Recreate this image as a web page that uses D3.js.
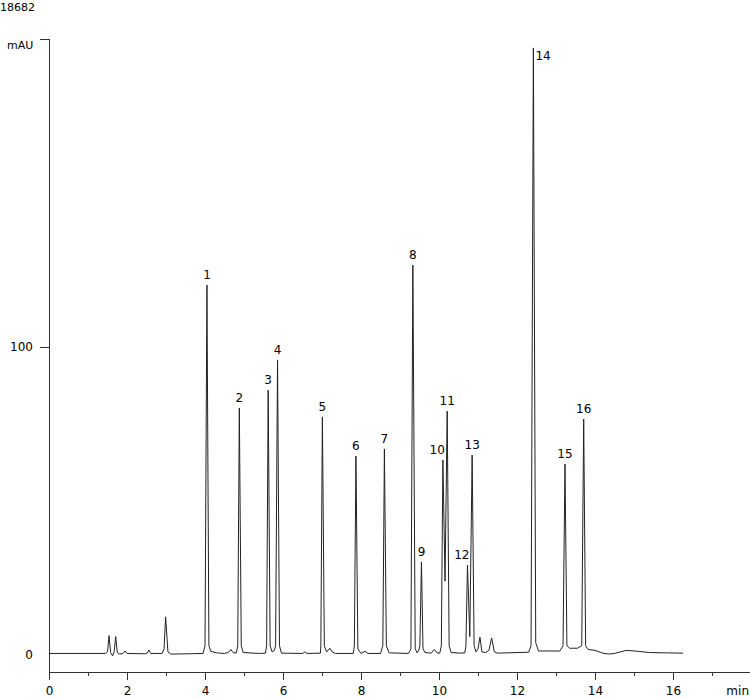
<!DOCTYPE html>
<html>
<head>
<meta charset="utf-8">
<script src="https://cdn.jsdelivr.net/npm/d3@7"></script>
<style>
  html, body { margin: 0; padding: 0; background: #fff; }
  svg { display: block; font-family: "DejaVu Sans", Verdana, sans-serif; }
</style>
</head>
<body>
<svg id="chart" width="750" height="699"></svg>
<script>
// signal trace, minutes / mAU
var traceTime = [0, 1.45, 1.50, 1.54, 1.58, 1.63, 1.67, 1.71, 1.75, 1.80, 1.90, 1.95, 2.00, 2.45, 2.52, 2.56, 2.61,
    2.90, 2.95, 2.99, 3.05, 3.12, 3.60, 3.95, 4.00, 4.05, 4.10, 4.15, 4.30, 4.50, 4.60, 4.66, 4.72, 4.80,
    4.84, 4.88, 4.93, 4.98, 5.40, 5.55, 5.58, 5.62, 5.67, 5.72, 5.78, 5.81, 5.86, 5.91, 5.96, 6.50, 6.56,
    6.62, 6.96, 6.97, 7.01, 7.06, 7.12, 7.20, 7.26, 7.35, 7.80, 7.83, 7.87, 7.92, 8.00, 8.10, 8.18, 8.50,
    8.56, 8.60, 8.65, 8.72, 9.22, 9.28, 9.33, 9.39, 9.44, 9.48, 9.51, 9.55, 9.59, 9.64, 9.80, 9.88, 9.95,
    10.02, 10.06, 10.10, 10.155, 10.21, 10.26, 10.31, 10.55, 10.66, 10.69, 10.73, 10.79, 10.85, 10.90,
    10.95, 11.00, 11.05, 11.10, 11.20, 11.28, 11.35, 11.42, 11.50, 12.30, 12.36, 12.42, 12.48, 12.55,
    12.80, 13.10, 13.18, 13.23, 13.28, 13.35, 13.55, 13.66, 13.71, 13.76, 13.82, 14.00, 14.20, 14.35,
    14.50, 14.80, 15.10, 15.40, 15.80, 16.26];
var traceSignal = [0.5, 0.5, 1, 6.3, 0.8, -0.3, 1, 6, 0.8, 0.3, 0.5, 1.3, 0.5, 0.4, 0.6, 1.6, 0.5,
    0.5, 2, 12.4, 1, 0.3, 0.4, 0.5, 3, 120.1, 3, 1.2, 0.7, 0.5, 0.8, 1.8, 0.8, 0.6,
    3, 80.2, 3, 0.8, 0.5, 0.6, 3, 86, 3, 1, 1.5, 3, 95.8, 3, 0.6, 0.5, 1,
    0.5, 0.6, 3, 77.3, 3, 1, 2.2, 1, 0.5, 0.5, 3, 64.6, 2, 0.5, 1.2, 0.5, 0.5,
    3, 66.9, 3, 0.7, 0.5, 2, 126.6, 2, 0.7, 1.5, 3, 30.2, 2, 0.8, 0.6, 1.8, 0.7,
    0.6, 3, 63.3, 24, 79.2, 3, 0.8, 0.6, 0.7, 3, 29.2, 6, 64.9, 3,
    1, 2, 5.8, 1, 0.8, 1.5, 5.5, 1, 0.6, 0.9, 3, 197.1, 4, 1.3,
    1.3, 1.3, 3, 62, 3, 2.2, 2.2, 3, 76.6, 3, 1.8, 1.5, 0.6, 0.3,
    0.5, 1.5, 1.2, 0.8, 0.7, 0.6];

// numbered peaks
var peakIds = ['1', '2', '3', '4', '5', '6', '7', '8', '9', '10', '11', '12', '13', '14', '15', '16'];
var peakTimes = [4.05, 4.88, 5.62, 5.86, 7.01, 7.87, 8.60, 9.33, 9.55, 10.10, 10.21, 10.73, 10.85, 12.42, 13.23, 13.71];
var peakHeights = [120.1, 80.2, 86, 95.8, 77.3, 64.6, 66.9, 126.6, 30.2, 63.3, 79.2, 29.2, 64.9, 197.1, 62, 76.6];

var xTickValues = [0, 1, 2, 3, 4, 5, 6, 7, 8, 9, 10, 11, 12, 13, 14, 15, 16, 17];
var yTickValues = [100, 200];
var yTickLabels = ['0', '100'];
var yLabelValues = [0, 100];

var svg = d3.select('#chart');

var x = d3.scaleLinear().domain([0, 18]).range([49, 751]),
    y = d3.scaleLinear().domain([0, 200]).range([655, 39]);

var axisColor = '#333';

// x axis
var xAxis = svg.append('g')
    .attr('transform', 'translate(0,672)')
    .call(d3.axisBottom(x)
        .tickValues(xTickValues)
        .tickSizeOuter(0)
        .tickSize(8)
        .tickFormat(function(d) { return d % 2 ? '' : d; }));

xAxis.select('.domain').attr('stroke', axisColor).attr('d', 'M49,0.5H750');
xAxis.selectAll('.tick line')
    .attr('stroke', axisColor)
    .attr('y2', function(d) { return d % 2 ? 4 : 8; });
xAxis.selectAll('.tick text')
    .attr('fill', '#000')
    .attr('y', 23)
    .attr('dy', null)
    .style('font-size', '12px')
    .style('font-family', '"DejaVu Sans", Verdana, sans-serif');

svg.append('text')
    .attr('x', 749)
    .attr('y', 695)
    .attr('text-anchor', 'end')
    .attr('font-size', 12)
    .text('min');

// y axis
svg.append('line')
    .attr('x1', 49.5).attr('x2', 49.5)
    .attr('y1', y(200)).attr('y2', 672)
    .attr('stroke', axisColor);

svg.selectAll('.ytick')
    .data(yTickValues)
    .enter().append('line')
    .attr('class', 'ytick')
    .attr('x1', 40).attr('x2', 49.5)
    .attr('y1', function(d) { return Math.round(y(d)) + 0.5; })
    .attr('y2', function(d) { return Math.round(y(d)) + 0.5; })
    .attr('stroke', axisColor);

svg.selectAll('.ylabel')
    .data(yLabelValues)
    .enter().append('text')
    .attr('class', 'ylabel')
    .attr('x', 33)
    .attr('y', function(d) { return y(d); })
    .attr('dy', '0.35em')
    .attr('text-anchor', 'end')
    .attr('font-size', 12)
    .text(function(d, i) { return yTickLabels[i]; });

svg.append('text')
    .attr('x', 7).attr('y', 49)
    .attr('font-size', 11)
    .text('mAU');

svg.append('text')
    .attr('x', 0).attr('y', 11)
    .attr('font-size', 11)
    .text('18682');

// trace
var line = d3.line()
    .x(function(d) { return x(d[0]); })
    .y(function(d) { return y(d[1]); });

svg.append('path')
    .datum(traceTime.map(function(t, i) { return [t, traceSignal[i]]; }))
    .attr('d', line)
    .attr('fill', 'none')
    .attr('stroke', '#222')
    .attr('stroke-width', 1);

// peak labels
var leftLabels = ['10', '12'], rightLabels = ['14'];

svg.selectAll('.plabel')
    .data(peakIds)
    .enter().append('text')
    .attr('class', 'plabel')
    .attr('font-size', 12)
    .attr('x', function(d, i) {
        var px = x(peakTimes[i]);
        if (rightLabels.indexOf(d) >= 0) return px + 2;
        if (leftLabels.indexOf(d) >= 0) return px + 2;
        return px;
    })
    .attr('y', function(d, i) {
        if (rightLabels.indexOf(d) >= 0) return y(peakHeights[i]) + 12;
        return y(peakHeights[i]) - 6;
    })
    .attr('text-anchor', function(d) {
        if (rightLabels.indexOf(d) >= 0) return 'start';
        if (leftLabels.indexOf(d) >= 0) return 'end';
        return 'middle';
    })
    .text(function(d) { return d; });
</script>
</body>
</html>
